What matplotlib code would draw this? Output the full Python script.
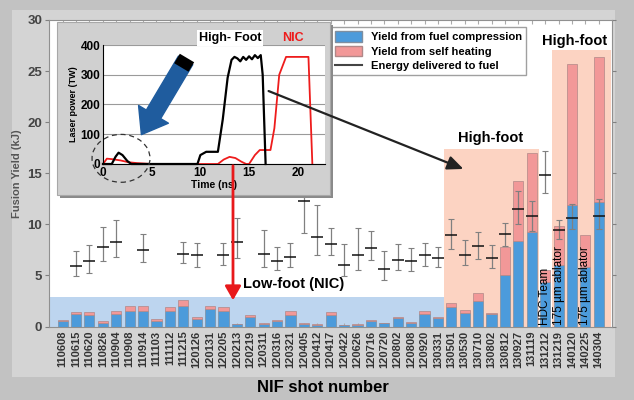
import numpy as np
import matplotlib.pyplot as plt
from matplotlib.patches import Rectangle, Ellipse, FancyArrowPatch, Patch
from matplotlib.lines import Line2D

plt.rcParams['font.family'] = ['Liberation Sans', 'DejaVu Sans']

# NIF shots (x axis)
shots = ['110608', '110615', '110620', '110826', '110904', '110908', '110914',
         '111103', '111112', '111215', '120126', '120131', '120205', '120213',
         '120219', '120311', '120316', '120321', '120405', '120412', '120417',
         '120422', '120626', '120716', '120720', '120802', '120808', '120920',
         '130331', '130501', '130530', '130710', '130802', '130812', '130927',
         '131119', '131212', '131219', '140120', '140225', '140304']

# yield split in two parts (kJ)
yield_compression = [0.49, 1.23, 1.17, 0.39, 1.27, 1.56, 1.56, 0.58, 1.53, 2.05,
                     0.78, 1.69, 1.53, 0.20, 0.97, 0.29, 0.49, 1.10, 0.26, 0.19,
                     1.14, 0.13, 0.19, 0.52, 0.32, 0.81, 0.32, 1.23, 0.84, 1.88,
                     1.36, 2.53, 1.20, 5.03, 8.34, 9.25, 4.38, 6.00, 11.9, 5.78, 12.2]
yield_self_heating = [0.16, 0.23, 0.26, 0.10, 0.26, 0.44, 0.44, 0.13, 0.42, 0.55,
                      0.19, 0.36, 0.42, 0.06, 0.20, 0.10, 0.16, 0.39, 0.10, 0.07,
                      0.32, 0.06, 0.07, 0.13, 0.07, 0.13, 0.10, 0.26, 0.13, 0.39,
                      0.26, 0.72, 0.16, 2.77, 5.86, 7.70, 1.12, 3.80, 13.8, 3.22, 14.2]

# energy delivered to fuel (kJ) with lower / upper bounds, nan = no data
nan = np.nan
energy = [nan, 5.93, 6.39, 7.77, 8.23, nan, 7.47, nan, nan, 7.14,
          6.95, nan, 7.04, 8.29, nan, 7.14, 6.45, 6.82, 12.3, 8.75,
          8.10, 6.06, 6.95, 7.64, 5.63, 6.55, 6.39, 6.95, 6.72, 8.92,
          7.04, 7.86, 6.72, 9.01, 11.48, 10.82, 14.83, 9.44, 10.59, nan, 10.82]
energy_low = [nan, 4.98, 5.20, 6.39, 6.78, nan, 6.29, nan, nan, 6.22,
              5.86, nan, 6.06, 6.72, nan, 5.80, 5.53, 5.86, 9.18, 6.95,
              6.95, 4.90, 5.50, 6.55, 4.58, 5.50, 5.40, 5.96, 5.83, 7.60,
              6.06, 6.62, 5.73, 7.86, 10.00, 9.34, 13.05, 8.52, 9.51, nan, 9.57]
energy_high = [nan, 7.37, 7.96, 9.74, 10.43, nan, 9.08, nan, nan, 8.26,
               8.13, nan, 8.20, 10.66, nan, 9.48, 7.77, 8.13, 14.5, 11.87,
               9.67, 8.03, 9.64, 9.34, 7.37, 8.03, 7.70, 8.20, 7.77, 10.56,
               8.42, 9.28, 7.93, 10.16, 13.22, 12.30, 17.16, 10.43, 12.03, nan, 12.46]

# laser pulse shapes for the inset (ns, TW)
hf_time = [0, 0.9, 1.3, 1.6, 2.0, 2.5, 2.9, 9.7, 10.0, 10.6, 11.8, 12.3, 12.8, 13.2,
           13.5, 13.8, 14.1, 14.4, 14.7, 15.0, 15.3, 15.6, 15.9, 16.2, 16.4, 16.7]
hf_power = [0, 0, 25, 38, 30, 10, 0, 0, 30, 41, 41, 150, 290, 350,
            360, 355, 345, 360, 350, 362, 352, 366, 356, 366, 300, 0]
nic_time = [0, 0.4, 1.0, 1.8, 2.6, 3.5, 5.0, 11.8, 12.4, 13.0, 13.6, 14.2, 14.7, 15.0,
            15.6, 16.1, 17.2, 17.6, 18.1, 18.8, 21.1, 21.5]
nic_power = [0, 18, 16, 12, 6, 3, 0, 0, 15, 24, 20, 8, 0, 0,
             30, 47, 47, 120, 300, 360, 360, 0]

W, H = 634, 400

def fx(px):
    return px / W

def fy(py):
    return 1 - py / H

fig = plt.figure(figsize=(W / 100, H / 100), dpi=100)
fig.patch.set_facecolor('#c2c2c2')
# lighter slide panel behind the chart
fig.add_artist(Rectangle((fx(12), fy(377)), 603 / W, 367 / H, transform=fig.transFigure,
                         facecolor='#d4d4d4', edgecolor='none', zorder=-5))

ax = fig.add_axes([fx(49), fy(326.5), 563 / W, 306.5 / H])
x = np.arange(len(shots))
ax.set_xlim(-1.02, 40.99)
ax.set_ylim(0, 30)

# region backgrounds
ax.add_patch(Rectangle((-1.02, 0), 29.5, 2.9, facecolor='#bdd5ef', edgecolor='none', zorder=0))
ax.add_patch(Rectangle((28.45, 0), 7.1, 17.4, facecolor='#fcd3c2', edgecolor='none', zorder=0))
ax.add_patch(Rectangle((36.5, 0), 4.4, 27.05, facecolor='#fcd3c2', edgecolor='none', zorder=0))

comp = np.array(yield_compression)
heat = np.array(yield_self_heating)
ax.bar(x, comp, width=0.75, color='#4c9bdb', edgecolor='#7f8fa0', linewidth=0.5, zorder=2)
ax.bar(x, heat, width=0.75, bottom=comp, color='#f29898', edgecolor='#b08888', linewidth=0.5, zorder=2)

e = np.array(energy)
lo = e - np.array(energy_low)
hi = np.array(energy_high) - e
ax.errorbar(x, e, yerr=[lo, hi], fmt='none', ecolor='#808080', elinewidth=0.9,
            capsize=2.5, capthick=0.8, zorder=3)
ax.plot(x, e, linestyle='none', marker='_', markersize=9, markeredgewidth=1.1,
        color='#111111', zorder=4)

# bar annotations
ax.text(36, 0.15, 'HDC Team', rotation=90, ha='center', va='bottom', fontsize=8.5, zorder=5)
ax.text(37, 0.15, '175 µm ablator', rotation=90, ha='center', va='bottom', fontsize=8.5, zorder=5)
ax.text(39, 0.15, '175 µm ablator', rotation=90, ha='center', va='bottom', fontsize=8.5, zorder=5)
ax.text(31.96, 18.45, 'High-foot', ha='center', va='center', fontsize=10.5, fontweight='bold')
ax.text(38.17, 27.9, 'High-foot', ha='center', va='center', fontsize=10.5, fontweight='bold')
ax.text(17.2, 4.15, 'Low-foot (NIC)', ha='center', va='center', fontsize=10.5, fontweight='bold')

# axes styling
ax.set_xticks(x)
ax.set_xticklabels(shots, rotation=90, fontsize=8, fontweight='bold', color='#333333')
ax.set_yticks(range(0, 31, 5))
ax.set_yticklabels([str(v) for v in range(0, 31, 5)], fontsize=9.5, fontweight='bold', color='#444444')
ax.tick_params(axis='x', length=0, pad=3)
ax.tick_params(axis='y', length=3, color='#808080', pad=2)
ax.tick_params(top=True, right=True, direction='in', which='both', labeltop=False, labelright=False)
ax.tick_params(axis='x', top=True, length=3, color='#aaaaaa')
ax.tick_params(axis='y', left=True, direction='out')
for s in ax.spines.values():
    s.set_color('#909090')
    s.set_linewidth(0.8)
ax.set_ylabel('Fusion Yield (kJ)', fontsize=8, fontweight='bold', color='#555555', labelpad=4)
fig.text(fx(323), fy(388), 'NIF shot number', ha='center', va='center', fontsize=12, fontweight='bold')

handles = [Patch(facecolor='#4c9bdb', edgecolor='#7f8fa0'),
           Patch(facecolor='#f29898', edgecolor='#b08888'),
           Line2D([], [], color='#444444', lw=1.5)]
labels = ['Yield from fuel compression', 'Yield from self heating', 'Energy delivered to fuel']
leg = ax.legend(handles, labels, loc='upper left', bbox_to_anchor=(fx(331), fy(27)),
                bbox_transform=fig.transFigure, prop={'size': 8.1, 'weight': 'bold'},
                frameon=True, fancybox=False, edgecolor='#a0a0a0', framealpha=1,
                handlelength=2.4, handleheight=1.1, labelspacing=0.3, borderpad=0.35,
                handletextpad=0.8, borderaxespad=0)
leg.set_zorder(6)

# inset panel with laser pulse shapes
fig.add_artist(Rectangle((fx(60), fy(198)), 273 / W, 173 / H, transform=fig.transFigure,
                         facecolor='#8a8a8a', edgecolor='none', zorder=1))
fig.add_artist(Rectangle((fx(57), fy(195)), 273 / W, 173 / H, transform=fig.transFigure,
                         facecolor='#d0d0d0', edgecolor='#a8a8a8', lw=0.8, zorder=1.1))

ins = fig.add_axes([fx(103), fy(164), 222 / W, 119 / H])
ins.set_zorder(3)
ins.set_facecolor('white')
ins.plot(nic_time, nic_power, color='#ee1c1c', lw=1.3, clip_on=False)
ins.plot(hf_time, hf_power, color='black', lw=1.6, clip_on=False)
ins.set_xlim(0, 22.8)
ins.set_ylim(0, 400)
ins.set_yticks([0, 100, 200, 300, 400])
ins.set_xticks([0, 5, 10, 15, 20])
ins.grid(axis='y', color='#9a9a9a', lw=0.8)
ins.set_axisbelow(True)
for lab in ins.get_xticklabels() + ins.get_yticklabels():
    lab.set_fontweight('bold')
    lab.set_fontsize(8.5)
ins.tick_params(length=0, pad=2)
ins.spines['top'].set_visible(False)
ins.spines['right'].set_visible(False)
ins.spines['left'].set_color('black')
ins.spines['bottom'].set_color('black')
ins.set_ylabel('Laser power (TW)', fontsize=6.5, fontweight='bold', labelpad=2)
ins.set_xlabel('Time (ns)', fontsize=7.5, fontweight='bold', labelpad=1)
ins.add_patch(Ellipse((1.85, 19), 5.95, 161, fill=False, ls=(0, (4, 3)), color='#333333',
                      lw=0.9, clip_on=False, zorder=5))
fig.text(fx(230), fy(38), 'High- Foot', ha='center', va='center', fontsize=9, fontweight='bold',
         bbox=dict(facecolor='white', edgecolor='none', pad=1.5), zorder=4)
fig.text(fx(293), fy(38), 'NIC', ha='center', va='center', fontsize=9, fontweight='bold',
         color='#ee1c1c', zorder=4)

# big blue arrow pointing at the foot of the pulse
tail = (fx(187), fy(58))
head = (fx(140), fy(137))
fig.add_artist(FancyArrowPatch(tail, head, transform=fig.transFigure,
                               arrowstyle='simple,head_width=2.5,head_length=1.7,tail_width=1.2',
                               mutation_scale=10, color='#1f5c9e', zorder=7))
cap_end = (tail[0] + 0.12 * (head[0] - tail[0]), tail[1] + 0.12 * (head[1] - tail[1]))
fig.add_artist(Line2D([tail[0], cap_end[0]], [tail[1], cap_end[1]], transform=fig.transFigure,
                      color='black', lw=12, solid_capstyle='butt', zorder=8))

# connector arrows from the inset to the main chart
fig.add_artist(FancyArrowPatch((fx(266), fy(90)), (fx(466), fy(170)), transform=fig.transFigure,
                               arrowstyle='-|>,head_width=0.35,head_length=0.8', mutation_scale=12,
                               color='#222222', lw=1.6, zorder=9))
fig.add_artist(FancyArrowPatch((fx(233), fy(163)), (fx(233), fy(303)), transform=fig.transFigure,
                               arrowstyle='-|>,head_width=0.4,head_length=0.7', mutation_scale=12,
                               color='#e8191b', lw=2.0, zorder=9))

fig.savefig('out.png', dpi=100, facecolor=fig.get_facecolor())
